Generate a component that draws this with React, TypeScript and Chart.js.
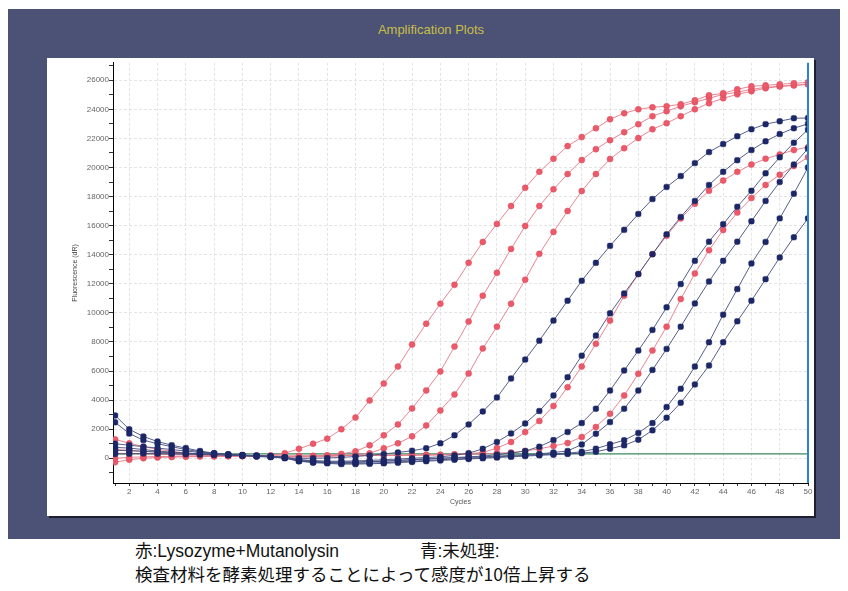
import React, { useEffect, useRef } from "react";
import { Chart, registerables } from "chart.js";

Chart.register(...registerables);

const cycles = [1,2,3,4,5,6,7,8,9,10,11,12,13,14,15,16,17,18,19,20,21,22,23,24,25,26,27,28,29,30,31,32,33,34,35,36,37,38,39,40,41,42,43,44,45,46,47,48,49,50];

const red1 = [1300,1030,800,620,480,370,280,220,180,150, 150,200,350,650,1000,1350,2000,2800,3980,5140, 6310,7820,9260,10630,11930,13440,14880,16120,17350,18600, 19700,20600,21470,22090,22700,23320,23730,24000,24140,24210, 24350,24620,24970,25100,25380,25580,25650,25720,25790,25860];
const red2 = [340,330,300,280,250,230,210,190,180,170, 150,130,120,130,150,200,300,480,890,1580, 2330,3430,4660,5970,7680,9400,11180,12760,14400,15980, 17350,18500,19550,20510,21260,21880,22430,22980,23530,23870, 24210,24490,24760,25030,25170,25380,25510,25580,25650,25720];
const red3 = [0,60,100,120,130,140,150,150,150,150, 140,120,100,90,100,120,180,250,340,690, 1030,1510,2260,3290,4390,5830,7550,9050,10630,12280, 14060,15570,17010,18380,19550,20580,21330,22020,22630,23050, 23530,24000,24420,24760,25030,25240,25450,25580,25650,25720];
const red4 = [-270,-100,0,50,80,100,120,130,140,150, 150,150,150,150,160,170,180,190,200,200, 210,220,230,250,280,320,400,700,1120,1800, 2560,3600,4890,6310,7870,9470,11180,12670,14040,15300, 16500,17500,18400,19100,19700,20200,20600,20900,21200,21400];
const red5 = [600,550,480,420,370,320,280,250,220,200, 180,170,160,160,160,170,180,190,200,200, 200,210,220,230,250,270,300,350,400,500, 650,850,1050,1460,2150,3060,4320,5810,7410,9050, 10950,12710,14310,15700,16900,17900,18800,19500,20100,20700];

const blue1 = [2470,1700,1250,1000,800,600,450,330,250,180, 120,80,30,0,0,20,60,120,200,300, 400,520,690,1030,1580,2330,3220,4180,5490,6790, 8090,9470,10840,12210,13440,14610,15710,16800,17830,18660, 19410,20300,21060,21610,22150,22630,22980,23180,23390,23400];
const blue2 = [550,520,480,430,390,350,310,280,250,220, 180,120,50,-100,-150,-200,-200,-180,-150,-100, -50,0,50,100,200,350,650,1120,1710,2400, 3250,4320,5580,7060,8440,9970,11340,12670,14040,15400, 16600,17700,18800,19700,20500,21200,21800,22300,22700,23000];
const blue3 = [2950,1990,1500,1150,900,700,500,350,250,200, 150,100,0,-200,-250,-300,-300,-280,-250,-200, -150,-100,-50,0,50,100,150,250,350,500, 800,1250,1810,2420,3410,4660,6040,7410,8830,10380, 11980,13580,14900,16100,17300,18400,19600,20700,21700,22600];
const blue4 = [1000,900,800,700,600,500,400,330,270,220, 170,120,50,-100,-200,-250,-250,-250,-220,-200, -150,-100,-50,0,30,60,100,150,200,250, 300,400,500,950,1690,2490,3410,4660,6080,7520, 9050,10650,12160,13580,14900,16300,17700,19000,20200,21300];
const blue5 = [750,700,600,500,420,350,300,260,230,200, 170,130,60,-150,-250,-300,-350,-350,-330,-300, -250,-200,-150,-100,-50,0,50,100,150,200, 250,300,350,450,660,960,1240,1740,2420,3520, 4780,6310,7980,9880,11640,13400,14880,16500,18200,20000];
const blue6 = [300,320,330,320,300,280,260,240,220,200, 170,130,50,-200,-300,-350,-400,-400,-380,-350, -300,-250,-200,-150,-100,-50,0,50,100,150, 200,250,300,350,450,660,890,1280,1920,2790, 3820,5080,6380,7980,9420,10840,12320,13810,15200,16500];

const redSeries = [red1, red2, red3, red4, red5];
const blueSeries = [blue1, blue2, blue3, blue4, blue5, blue6];

// tick positions (major ones carry labels)
const yTickValues = [-1000,0,1000,2000,3000,4000,5000,6000,7000,8000,9000,10000,11000,12000,13000,14000,15000,16000,17000,18000,19000,20000,21000,22000,23000,24000,25000,26000,27000];
const yTickLabels = ["0","2000","4000","6000","8000","10000","12000","14000","16000","18000","20000","22000","24000","26000"];
const xTickLabels = ["2","4","6","8","10","12","14","16","18","20","22","24","26","28","30","32","34","36","38","40","42","44","46","48","50"];

const thresholdValue = 300;
const xMin = 0.85;
const xMax = 50;
const yMin = -1700;
const yMax = 27200;

const titleText = "Amplification Plots";
const yTitle = "Fluorescence (dR)";
const xTitle = "Cycles";
const noteRed = "赤:Lysozyme+Mutanolysin";
const noteBlue = "青:未処理:";
const noteLine2 = "検査材料を酵素処理することによって感度が10倍上昇する";

function toPoints(arr: number[]) {
  return cycles.map((c, i) => ({ x: c, y: arr[i] }));
}

export default function App() {
  const ref = useRef<HTMLCanvasElement | null>(null);

  useEffect(() => {
    if (!ref.current) return;
    const datasets: any[] = [];
    datasets.push({
      data: [
        { x: xMax, y: yMin },
        { x: xMax, y: yMax },
      ],
      borderColor: "#2a86c8",
      borderWidth: 2,
      pointRadius: 0,
      clip: false,
    });
    blueSeries.forEach((s) => {
      datasets.push({
        data: toPoints(s),
        borderColor: "rgba(70,78,125,0.9)",
        borderWidth: 1,
        pointStyle: "rectRounded",
        pointRadius: 3.2,
        pointBackgroundColor: "#1b2766",
        pointBorderColor: "#1b2766",
        pointBorderWidth: 0.5,
        tension: 0,
      });
    });
    redSeries.forEach((s) => {
      datasets.push({
        data: toPoints(s),
        borderColor: "rgba(228,120,135,0.9)",
        borderWidth: 1,
        pointStyle: "circle",
        pointRadius: 3,
        pointBackgroundColor: "#ec5a6a",
        pointBorderColor: "#dc4a5c",
        pointBorderWidth: 0.5,
        tension: 0,
      });
    });
    datasets.push({
      data: [
        { x: xMin, y: thresholdValue },
        { x: xMax, y: thresholdValue },
      ],
      borderColor: "#3a8a5a",
      borderWidth: 1.3,
      pointRadius: 0,
    });

    const tickFont = { family: "'Liberation Sans', Arial, sans-serif", size: 8 };
    const chart = new Chart(ref.current, {
      type: "line",
      data: { datasets },
      options: {
        animation: false,
        responsive: false,
        maintainAspectRatio: false,
        layout: { padding: { left: 20, right: 6, top: 4, bottom: 6 } },
        plugins: { legend: { display: false }, tooltip: { enabled: false } },
        scales: {
          x: {
            type: "linear",
            min: xMin,
            max: xMax,
            afterBuildTicks: (s: any) => {
              s.ticks = cycles.map((c) => ({ value: c }));
            },
            afterFit: (s: any) => {
              s.height = 27;
            },
            ticks: {
              autoSkip: false,
              maxRotation: 0,
              minRotation: 0,
              padding: 1,
              color: "#666",
              font: tickFont,
              callback: (v: any) => (xTickLabels.includes(String(v)) ? String(v) : ""),
            },
            grid: {
              color: (ctx: any) =>
                ctx.tick && xTickLabels.includes(String(ctx.tick.value)) ? "#e4e4e4" : "rgba(0,0,0,0)",
              tickColor: "#333",
              tickLength: 3,
            },
            border: { display: true, color: "#000", width: 1, dash: [3, 2] },
            title: {
              display: true,
              text: xTitle,
              color: "#555",
              font: { family: "'Liberation Sans', Arial, sans-serif", size: 7 },
            },
          },
          y: {
            type: "linear",
            min: yMin,
            max: yMax,
            afterBuildTicks: (s: any) => {
              s.ticks = yTickValues.map((v) => ({ value: v }));
            },
            afterFit: (s: any) => {
              s.width = 46;
            },
            ticks: {
              autoSkip: false,
              padding: 0,
              color: "#666",
              font: tickFont,
              callback: (v: any) => (yTickLabels.includes(String(v)) ? String(v) : ""),
            },
            grid: {
              color: (ctx: any) =>
                ctx.tick && yTickLabels.includes(String(ctx.tick.value)) ? "#e4e4e4" : "rgba(0,0,0,0)",
              tickColor: "#333",
              tickLength: 4,
            },
            border: { display: true, color: "#000", width: 1, dash: [3, 2] },
            title: {
              display: true,
              text: yTitle,
              color: "#444",
              font: { family: "'Liberation Sans', Arial, sans-serif", size: 7 },
            },
          },
        },
      },
    });
    return () => chart.destroy();
  }, []);

  const latinCjk = "'Liberation Sans', 'Noto Sans CJK JP', sans-serif";
  const cjk = "'Noto Sans CJK JP', sans-serif";

  return (
    <div style={{ position: "absolute", left: 0, top: 0, width: 848, height: 591, background: "#fff", overflow: "hidden" }}>
      <div style={{ position: "absolute", left: 8, top: 9, width: 832, height: 530, background: "#4b5275" }} />
      <div
        style={{
          position: "absolute",
          left: 0,
          width: 862,
          top: 21,
          textAlign: "center",
          color: "#c8be48",
          fontFamily: "'Liberation Sans', Arial, sans-serif",
          fontSize: 13,
          lineHeight: "18px",
        }}
      >
        {titleText}
      </div>
      <div
        style={{
          position: "absolute",
          left: 47,
          top: 58,
          width: 767,
          height: 458,
          background: "#fff",
          boxShadow: "2px 2px 0 #1e2030",
        }}
      >
        <canvas ref={ref} width={767} height={458} style={{ display: "block", width: 767, height: 458 }} />
      </div>
      <div style={{ position: "absolute", left: 135, top: 539, fontFamily: latinCjk, fontSize: 17.5, lineHeight: "24px", color: "#111", whiteSpace: "nowrap" }}>
        {noteRed}
      </div>
      <div style={{ position: "absolute", left: 420, top: 539, fontFamily: latinCjk, fontSize: 17.5, lineHeight: "24px", color: "#111", whiteSpace: "nowrap" }}>
        {noteBlue}
      </div>
      <div style={{ position: "absolute", left: 135, top: 562, fontFamily: cjk, fontSize: 17.5, lineHeight: "24px", color: "#111", whiteSpace: "nowrap" }}>
        {noteLine2}
      </div>
    </div>
  );
}
